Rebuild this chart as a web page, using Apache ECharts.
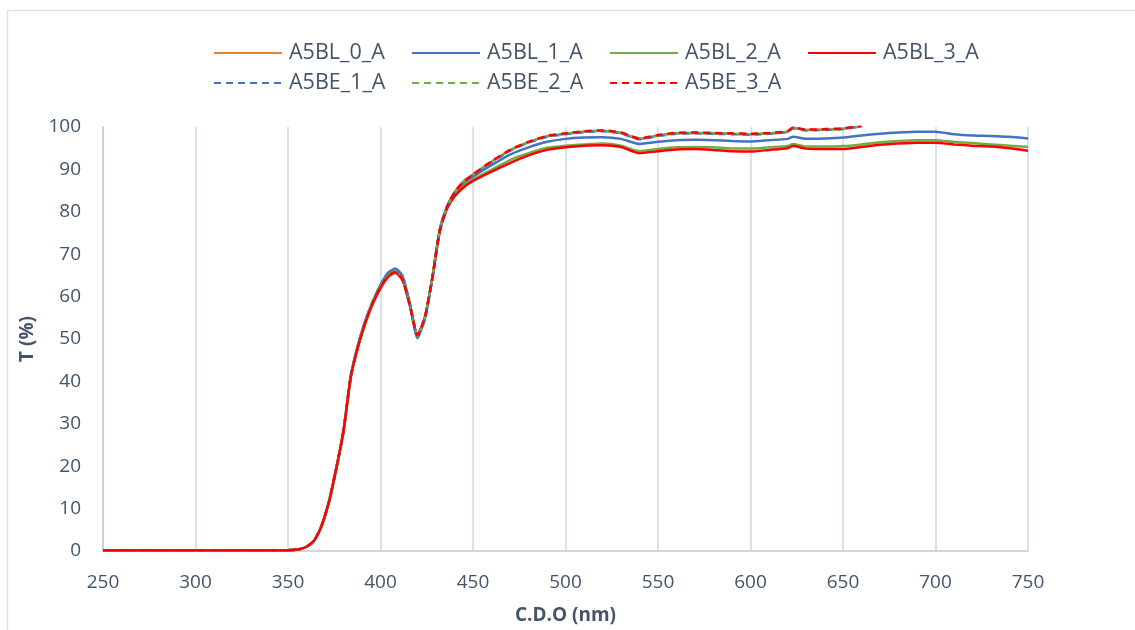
<!DOCTYPE html>
<html>
<head>
<meta charset="utf-8">
<script src="https://cdn.jsdelivr.net/npm/echarts@6/dist/echarts.min.js"></script>
<style>
  html, body { margin: 0; padding: 0; background: #fff; }
  #chart { width: 1135px; height: 630px; }
</style>
</head>
<body>
<div id="chart"></div>
<script>
// Wavelengths (nm), shared by every series
const wavelengths = [250, 300, 350, 356, 360, 364, 368, 372, 376, 380, 384, 388, 392, 396, 400, 404, 408, 412, 416, 420,
    424, 428, 432, 436, 440, 445, 450, 460, 470, 480, 490, 500, 510, 520, 530, 540, 550, 560, 570, 580,
    590, 600, 610, 620, 623, 630, 640, 650, 660, 670, 680, 690, 700, 710, 720, 730, 740, 750];

// Transmission values (%)
const bl0 = [0.2, 0.2, 0.2, 0.4, 1.0, 2.4, 5.8, 11.4, 19.3, 28.3, 41.3, 48.6, 54.3, 58.8, 62.4, 65.1, 66.1, 64.3, 57.9, 50.7,
    55.0, 64.4, 75.6, 81.3, 84.6, 87.2, 88.8, 91.8, 94.5, 96.4, 97.8, 98.4, 98.9, 99.1, 98.6, 97.2, 98.0, 98.5, 98.6, 98.5,
    98.4, 98.3, 98.5, 98.9, 99.8, 99.3, 99.4, 99.6, 100.2, null, null, null, null, null, null, null, null, null];
const bl1 = [0.2, 0.2, 0.2, 0.4, 1.0, 2.3, 5.7, 11.3, 19.2, 28.4, 41.5, 48.9, 54.6, 59.1, 62.8, 65.6, 66.6, 64.8, 58.1, 50.2,
    54.8, 64.3, 75.7, 81.2, 84.4, 86.8, 88.3, 91.0, 93.5, 95.2, 96.5, 97.2, 97.5, 97.6, 97.2, 96.0, 96.5, 96.9, 97.0, 96.9,
    96.7, 96.6, 96.9, 97.2, 97.7, 97.2, 97.3, 97.5, 98.0, 98.4, 98.7, 98.9, 98.9, 98.3, 98.0, 97.9, 97.7, 97.3];
const bl2 = [0.2, 0.2, 0.2, 0.4, 1.0, 2.4, 5.8, 11.4, 19.3, 28.3, 41.2, 48.5, 54.2, 58.7, 62.2, 64.9, 65.9, 64.1, 57.8, 50.8,
    55.1, 64.3, 75.4, 80.9, 83.9, 86.1, 87.6, 89.9, 92.2, 93.8, 95.1, 95.6, 95.9, 96.1, 95.6, 94.3, 94.8, 95.2, 95.3, 95.2,
    94.9, 94.9, 95.2, 95.5, 96.0, 95.4, 95.4, 95.5, 95.9, 96.4, 96.7, 96.9, 96.9, 96.5, 96.2, 95.9, 95.6, 95.3];
const bl3 = [0.2, 0.2, 0.2, 0.4, 1.0, 2.4, 5.8, 11.4, 19.3, 28.3, 41.2, 48.4, 54.0, 58.5, 62.0, 64.6, 65.6, 63.8, 57.6, 51.0,
    55.2, 64.3, 75.3, 80.8, 83.6, 85.8, 87.3, 89.5, 91.5, 93.3, 94.6, 95.2, 95.6, 95.7, 95.3, 93.8, 94.3, 94.7, 94.8, 94.6,
    94.3, 94.2, 94.6, 95.0, 95.5, 94.9, 94.8, 94.8, 95.3, 95.8, 96.1, 96.3, 96.3, 95.9, 95.6, 95.4, 95.0, 94.4];
const be1 = [0.2, 0.2, 0.2, 0.4, 1.0, 2.3, 5.7, 11.3, 19.2, 28.4, 41.4, 48.8, 54.5, 59.0, 62.6, 65.4, 66.4, 64.6, 58.0, 50.4,
    54.9, 64.4, 75.6, 81.2, 84.5, 87.1, 88.7, 91.7, 94.4, 96.3, 97.7, 98.3, 98.8, 99.0, 98.5, 97.1, 97.9, 98.4, 98.5, 98.4,
    98.3, 98.2, 98.4, 98.8, 99.7, 99.2, 99.3, 99.5, 100.2, null, null, null, null, null, null, null, null, null];
const be2 = [0.2, 0.2, 0.2, 0.4, 1.0, 2.4, 5.8, 11.4, 19.3, 28.3, 41.3, 48.6, 54.3, 58.8, 62.3, 65.0, 66.0, 64.2, 57.8, 50.7,
    55.0, 64.4, 75.5, 81.2, 84.5, 87.1, 88.8, 91.8, 94.5, 96.4, 97.8, 98.4, 98.9, 99.1, 98.6, 97.2, 98.0, 98.5, 98.6, 98.5,
    98.4, 98.3, 98.5, 98.9, 99.8, 99.3, 99.4, 99.6, 100.2, null, null, null, null, null, null, null, null, null];
const be3 = [0.2, 0.2, 0.2, 0.4, 1.0, 2.4, 5.8, 11.4, 19.3, 28.3, 41.2, 48.5, 54.2, 58.7, 62.2, 64.8, 65.8, 64.0, 57.7, 50.9,
    55.1, 64.4, 75.5, 81.1, 84.5, 87.1, 88.8, 91.9, 94.6, 96.5, 97.9, 98.5, 99.0, 99.2, 98.7, 97.3, 98.1, 98.6, 98.7, 98.6,
    98.5, 98.4, 98.6, 99.0, 99.9, 99.4, 99.5, 99.7, 100.3, null, null, null, null, null, null, null, null, null];

const seriesNames = ['A5BL_0_A', 'A5BL_1_A', 'A5BL_2_A', 'A5BL_3_A', 'A5BE_1_A', 'A5BE_2_A', 'A5BE_3_A'];
const seriesValues = [bl0, bl1, bl2, bl3, be1, be2, be3];
const seriesColors = ['#ED7D31', '#4472C4', '#70AD47', '#FF0000', '#4472C4', '#70AD47', '#FF0000'];
const seriesDashed = [false, false, false, false, true, true, true];

// Axis ticks
const xTicks = { min: 250, max: 750, step: 50 };
const yTicks = { min: 0, max: 100, step: 10 };

const textColor = '#44546A';
const fontName = 'Open Sans';

let chart = echarts.init(document.getElementById('chart'), null, { renderer: 'canvas' });

// one legend per entry, laid out on a 4 column grid (2 rows)
let legends = seriesNames.map((name, i) => ({
    data: [name],
    left: 213 + (i < 4 ? i : i - 4) * 198,
    top: i < 4 ? 42 : 72,
    padding: 0,
    itemWidth: 68,
    itemHeight: 22,
    itemGap: 0,
    itemStyle: { opacity: 0 },
    textStyle: { color: textColor, fontSize: 21.5, fontFamily: fontName, padding: [0, 0, 0, 2] }
}));

let series = seriesNames.map((name, i) => ({
    name: name,
    type: 'line',
    data: wavelengths.map((w, j) => [w, seriesValues[i][j]]),
    showSymbol: false,
    symbol: 'none',
    smooth: 0.2,
    clip: true,
    connectNulls: false,
    color: seriesColors[i],
    lineStyle: {
        color: seriesColors[i],
        width: 2.5,
        type: seriesDashed[i] ? [7, 5] : 'solid'
    }
}));

let option = {
    animation: false,
    backgroundColor: '#fff',
    textStyle: { fontFamily: fontName },
    graphic: [{
        type: 'rect',
        shape: { x: 7.5, y: 10.5, width: 1140, height: 640 },
        style: { fill: 'none', stroke: '#DDE1E8', lineWidth: 1.5 },
        silent: true,
        z: -1
    }],
    legend: legends,
    grid: { left: 103, right: 107, top: 127, bottom: 77 },
    xAxis: {
        type: 'value',
        min: xTicks.min,
        max: xTicks.max,
        interval: xTicks.step,
        name: 'C.D.O (nm)',
        nameLocation: 'middle',
        nameGap: 55,
        nameTextStyle: { color: textColor, fontSize: 19, fontWeight: 'bold', fontFamily: fontName },
        axisLine: { show: true, lineStyle: { color: '#C3C8D3', width: 1.5 } },
        axisTick: { show: false },
        axisLabel: { color: textColor, fontSize: 19, margin: 22, fontFamily: fontName },
        splitLine: { show: true, lineStyle: { color: '#DDE1E9', width: 2 } }
    },
    yAxis: {
        type: 'value',
        min: yTicks.min,
        max: yTicks.max,
        interval: yTicks.step,
        name: 'T (%)',
        nameLocation: 'middle',
        nameRotate: 90,
        nameGap: 63,
        nameTextStyle: { color: textColor, fontSize: 19, fontWeight: 'bold', fontFamily: fontName },
        axisLine: { show: true, lineStyle: { color: '#C3C8D3', width: 1.5 } },
        axisTick: { show: false },
        axisLabel: { color: textColor, fontSize: 19, margin: 22, fontFamily: fontName },
        splitLine: { show: false }
    },
    series: series
};

chart.setOption(option);
</script>
</body>
</html>
